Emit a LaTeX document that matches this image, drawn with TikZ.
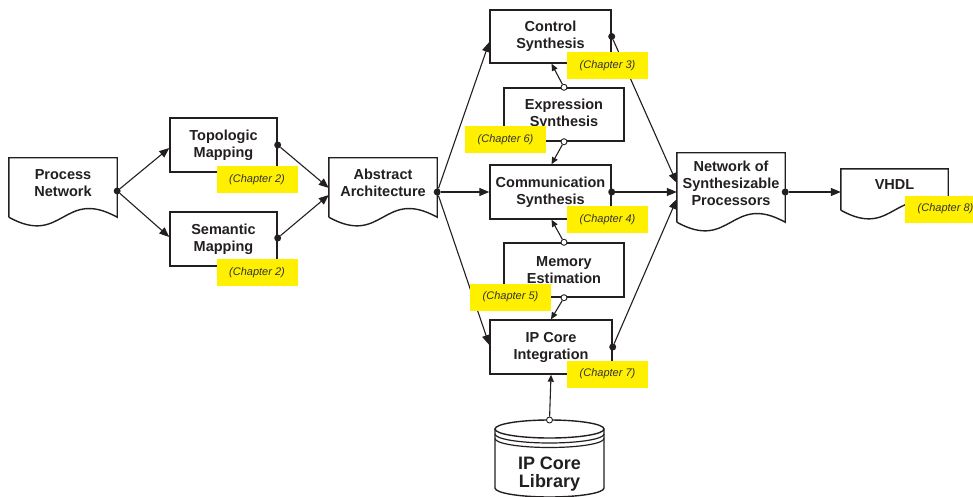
\documentclass[tikz,border=0pt]{standalone}
\usepackage{fontspec}
\setmainfont{Liberation Sans}
\usetikzlibrary{arrows.meta}

\definecolor{chapyellow}{RGB}{255,240,0}
\definecolor{chaptext}{RGB}{51,51,51}
\definecolor{ink}{RGB}{35,31,32}

% outline of a document node: flat top, sides running down past the text, wavy bottom
\newcommand{\docoutline}[1]{%
	\draw[ink, line width=1.4pt] ([yshift=-9pt]#1.south west) -- (#1.north west) -- (#1.north east) -- ([yshift=-9pt]#1.south east)
		.. controls ([yshift=21pt]#1.south) and ([yshift=-39pt]#1.south) .. ([yshift=-9pt]#1.south west);
}

\tikzset{
	boxfont/.style={font=\fontsize{14.5}{17}\selectfont\bfseries, text=ink},
	proc/.style={boxfont, draw=ink, fill=white, line width=1.4pt, minimum width=121pt, minimum height=54pt, align=center, inner sep=0pt},
	doc/.style={boxfont, minimum width=108pt, align=center, inner sep=0pt},
	chap/.style={fill=chapyellow, text=chaptext, minimum width=81pt, minimum height=27pt, inner sep=0pt, font=\fontsize{11}{13}\selectfont\itshape},
	outdot/.style={circle, fill=ink, inner sep=0pt, minimum size=7pt},
	port/.style={circle, draw=ink, fill=white, line width=0.9pt, inner sep=0pt, minimum size=6pt},
	flow/.style={ink, line width=1.1pt, -{Triangle[length=10pt,width=8pt]}},
	feed/.style={ink, line width=1.1pt, -{Triangle[length=7pt,width=6pt]}}
}

\begin{document}
\begin{tikzpicture}[x=1pt, y=-1pt]
	\useasboundingbox (0,0) rectangle (973,497);

	% documents
	\node[doc, minimum height=50pt] (pn) at (63,183) {Process\\Network};
	\docoutline{pn}
	\node[doc, minimum height=50pt] (abs) at (383,183) {Abstract\\Architecture};
	\docoutline{abs}
	\node[doc, minimum height=60pt] (net) at (731,183) {Network of\\Synthesizable\\Processors};
	\docoutline{net}
	\node[doc, minimum width=107pt, minimum height=32pt] (vhdl) at (894.5,185) {VHDL};
	\docoutline{vhdl}

	% processing steps
	\node[proc, minimum width=107pt] (topo) at (223.5,145) {Topologic\\Mapping};
	\node[proc, minimum width=107pt] (sem) at (223.5,239) {Semantic\\Mapping};
	\node[proc, minimum height=53pt] (ctrl) at (550.5,36.5) {Control\\Synthesis};
	\node[proc, minimum width=120pt, minimum height=53pt] (expr) at (564,114.5) {Expression\\Synthesis};
	\node[proc] (comm) at (550.5,192) {Communication\\Synthesis};
	\node[proc, minimum width=120pt] (mem) at (564,270) {Memory\\Estimation};
	\node[proc, minimum width=122pt] (ip) at (551,347) {IP Core\\Integration};

	% IP core library cylinder
	\pgfmathsetmacro{\LibRx}{54.5}
	\pgfmathsetmacro{\LibRy}{9}
	\draw[ink, line width=1.4pt, fill=white] (495,429) -- (495,488) arc[start angle=180, end angle=0, x radius=\LibRx, y radius=\LibRy] -- (604,429);
	\draw[ink, line width=1.4pt, fill=white] (549.5,429) ellipse[x radius=\LibRx, y radius=\LibRy];
	\draw[ink, line width=1.2pt] (495,434) arc[start angle=180, end angle=0, x radius=\LibRx, y radius=\LibRy];
	\draw[ink, line width=1.2pt] (495,438.5) arc[start angle=180, end angle=0, x radius=\LibRx, y radius=\LibRy];
	\node[font=\fontsize{18}{18}\selectfont\bfseries, text=ink, align=center, inner sep=0pt] (lib) at (549.5,474) {IP Core\\Library};

	% dots and ports
	\node[outdot] (pnout) at ([yshift=-8pt]pn.east) {};
	\node[outdot] (topoout) at (topo.east) {};
	\node[outdot] (semout) at ([yshift=1pt]sem.east) {};
	\node[outdot] (absout) at ([yshift=-9pt]abs.east) {};
	\node[outdot] (ctrlout) at (ctrl.east) {};
	\node[outdot] (commout) at (comm.east) {};
	\node[outdot] (ipout) at (ip.east) {};
	\node[outdot] (netout) at ([yshift=-9pt]net.east) {};
	\node[port] (exprtop) at (expr.north) {};
	\node[port] (exprbot) at (expr.south) {};
	\node[port] (memtop) at (mem.north) {};
	\node[port] (membot) at (mem.south) {};
	\node[port] (libtop) at (549.5,420) {};

	% flow
	\draw[flow] (pnout) -- ([yshift=-3pt]topo.west);
	\draw[flow] (pnout) -- ([yshift=2pt]sem.west);
	\draw[flow] (topoout) -- ([yshift=-5pt]abs.west);
	\draw[flow] (semout) -- ([yshift=-12pt]abs.west);
	\draw[flow] (absout) -- ([yshift=-5.5pt]ctrl.west);
	\draw[flow] (absout) -- (comm.west);
	\draw[flow] (absout) -- ([yshift=2pt]ip.west);
	\draw[flow] (ctrlout) -- (net.west);
	\draw[flow] (commout) -- ([yshift=-9pt]net.west);
	\draw[flow] (ipout) -- ([yshift=-16pt]net.west);
	\draw[flow] (netout) -- ([yshift=-7pt]vhdl.west);
	\draw[feed] (exprtop) -- ([xshift=1pt]ctrl.south);
	\draw[feed] (exprbot) -- ([xshift=1pt]comm.north);
	\draw[feed] (memtop) -- ([xshift=1pt]comm.south);
	\draw[feed] (membot) -- (ip.north);
	\draw[feed] (libtop) -- (ip.south);

	% chapter tags
	\node[chap] (ch2a) at (257,179.5) {(Chapter 2)};
	\node[chap] (ch2b) at (257,272.5) {(Chapter 2)};
	\node[chap] (ch3) at (607.5,65.5) {(Chapter 3)};
	\node[chap] (ch6) at (505.5,140) {(Chapter 6)};
	\node[chap] (ch4) at (607.5,219.5) {(Chapter 4)};
	\node[chap] (ch5) at (510.5,297) {(Chapter 5)};
	\node[chap] (ch7) at (607.5,374) {(Chapter 7)};
	\node[chap] (ch8) at (945.5,209) {(Chapter 8)};
\end{tikzpicture}
\end{document}
